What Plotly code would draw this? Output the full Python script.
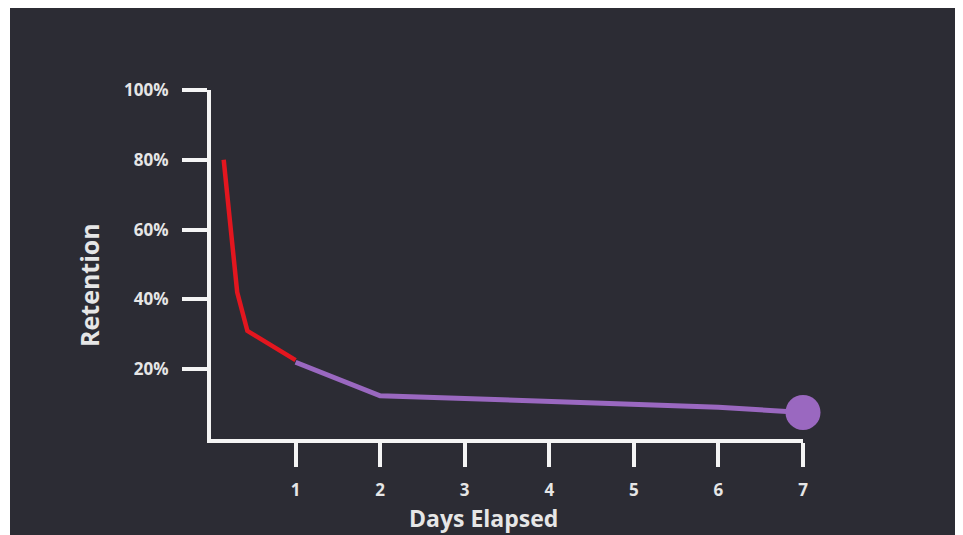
import plotly.graph_objects as go

# Data
red_days = [0.15, 0.31, 0.43, 1.0]
red_retention = [80, 42, 31, 22.6]
purple_days = [1, 2, 3, 4, 5, 6, 7]
purple_retention = [22, 12.4, 11.6, 10.8, 10.0, 9.1, 7.6]
x_ticks = [1, 2, 3, 4, 5, 6, 7]
y_ticks = [20, 40, 60, 80, 100]
y_tick_text = ["20%", "40%", "60%", "80%", "100%"]

# The page has an 8px body margin, so work in figure pixels = screen - 8
OFF = 8
W, H = 963 - OFF, 535 - OFF
L, R, T, B = 211 - OFF, 803 - OFF, 90 - OFF, 439 - OFF  # plot area
pw, ph = R - L, B - T

def px(x):
    return (x - OFF - L) / pw

def py(y):
    return (B - (y - OFF)) / ph

BG = "#2c2c34"
AX = "#f4f4f4"
TXT = "#e6e6e6"
FONT = "Open Sans"

fig = go.Figure()
fig.add_trace(go.Scatter(
    x=purple_days, y=purple_retention, mode="lines",
    line=dict(color="#9a68c0", width=5), showlegend=False, cliponaxis=False,
))
fig.add_trace(go.Scatter(
    x=purple_days[-1:], y=purple_retention[-1:], mode="markers",
    marker=dict(color="#9a68c0", size=35), showlegend=False, cliponaxis=False,
))
fig.add_trace(go.Scatter(
    x=red_days, y=red_retention, mode="lines",
    line=dict(color="#e3161f", width=4.5), showlegend=False, cliponaxis=False,
))

axis_common = dict(
    showline=True, linecolor=AX, linewidth=4, mirror=False,
    ticks="outside", tickcolor=AX, tickwidth=4,
    showgrid=False, zeroline=False, fixedrange=True,
    tickfont=dict(family=FONT, size=17, color=TXT, weight="bold"),
)

fig.update_layout(
    width=W, height=H,
    margin=dict(l=L, r=W - R, t=T, b=H - B, pad=0),
    paper_bgcolor="white",
    plot_bgcolor="rgba(0,0,0,0)",
    xaxis=dict(range=[0, 7], tickvals=x_ticks, ticklen=24,
               ticklabelstandoff=9, **axis_common),
    yaxis=dict(range=[0, 100], tickvals=y_ticks, ticktext=y_tick_text,
               ticklen=25, ticklabelstandoff=10, **axis_common),
    shapes=[dict(type="rect", xref="paper", yref="paper",
                 x0=px(10), x1=px(958), y0=py(540), y1=py(8),
                 fillcolor=BG, line=dict(width=0), layer="below")],
    annotations=[
        dict(text="Days Elapsed", xref="paper", yref="paper",
             x=px(483), y=py(518), xanchor="center", yanchor="middle",
             showarrow=False,
             font=dict(family=FONT, size=23, color=TXT, weight="bold")),
        dict(text="Retention", xref="paper", yref="paper",
             x=px(89), y=py(285), xanchor="center", yanchor="middle",
             showarrow=False, textangle=-90,
             font=dict(family=FONT, size=25, color=TXT, weight="bold")),
    ],
)

fig.write_html("out.html")
